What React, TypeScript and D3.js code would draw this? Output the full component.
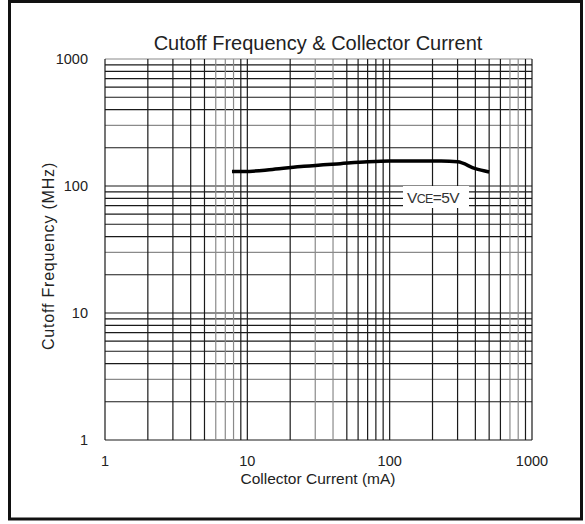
import React from "react";
import * as d3 from "d3";

const currentMA = [7.8, 9.5, 15, 25, 45, 70, 100, 150, 230, 300, 400, 500];
const cutoffMHz = [130, 130, 135, 143, 150, 155, 157, 157, 157, 155, 137, 129];
const xTicks = [1, 10, 100, 1000];
const yTicks = [1, 10, 100, 1000];
const title = "Cutoff Frequency & Collector Current";
const xTitle = "Collector Current (mA)";
const yTitle = "Cutoff Frequency (MHz)";

const W = 585;
const H = 524;
const L = 105, R = 532, T = 59, B = 440;

function minors(lo: number, hi: number) {
  const out: number[] = [];
  for (let d = lo; d < hi; d *= 10) {
    for (let k = 1; k <= 10; k++) out.push(d * k);
  }
  return Array.from(new Set(out));
}

const greyX = new Set([6, 7, 8, 30, 40, 700, 800]);
const greyY = new Set([1000, 300, 30, 3]);

export default function App() {
  const x = d3.scaleLog().domain([1, 1000]).range([L, R]);
  const y = d3.scaleLog().domain([1, 1000]).range([B, T]);
  const line = d3
    .line<number>()
    .x((_, i) => x(currentMA[i]))
    .y((d) => y(d))
    .curve(d3.curveMonotoneX);
  const font = "Arial, 'Liberation Sans', Helvetica, sans-serif";
  const gx = minors(1, 1000);
  const gy = minors(1, 1000);
  return (
    <svg
      width={W}
      height={H}
      style={{ position: "absolute", left: 0, top: 0, background: "#fff" }}
      fontFamily={font}
    >
      <rect x={0} y={0} width={W} height={H} fill="#fff" />
      <rect x={9.5} y={1.5} width={572} height={517.5} fill="none" stroke="#111" strokeWidth={3} />
      {gy.map((v) => (
        <line
          key={"gy" + v}
          x1={L}
          x2={R}
          y1={y(v)}
          y2={y(v)}
          stroke={greyY.has(v) ? "#8a8a8a" : "#1a1a1a"}
          strokeWidth={1.2}
        />
      ))}
      {gx.map((v) => (
        <line
          key={"gx" + v}
          x1={x(v)}
          x2={x(v)}
          y1={T}
          y2={B}
          stroke={greyX.has(v) ? "#8a8a8a" : "#1a1a1a"}
          strokeWidth={1.2}
        />
      ))}
      <path d={line(cutoffMHz) || ""} fill="none" stroke="#000" strokeWidth={3.5} strokeLinejoin="round" />
      <rect x={403} y={186} width={66} height={22} fill="#fff" />
      <text x={433} y={202.5} textAnchor="middle" fontSize={15.5} fill="#333" letterSpacing={-0.6}>
        V<tspan fontSize={12.5}>CE</tspan>=5V
      </text>
      <text x={318} y={50} textAnchor="middle" fontSize={20} fill="#222">
        {title}
      </text>
      {yTicks.map((v) => (
        <text key={"yt" + v} x={88} y={y(v) + 5} textAnchor="end" fontSize={14.5} fill="#222">
          {v}
        </text>
      ))}
      {xTicks.map((v) => (
        <text key={"xt" + v} x={x(v)} y={466} textAnchor="middle" fontSize={14.5} fill="#222">
          {v}
        </text>
      ))}
      <text x={318} y={484} textAnchor="middle" fontSize={15.5} fill="#222">
        {xTitle}
      </text>
      <text
        transform={`translate(54, 256) rotate(-90)`}
        textAnchor="middle"
        fontSize={16}
        letterSpacing={0.8}
        fill="#222"
      >
        {yTitle}
      </text>
    </svg>
  );
}
